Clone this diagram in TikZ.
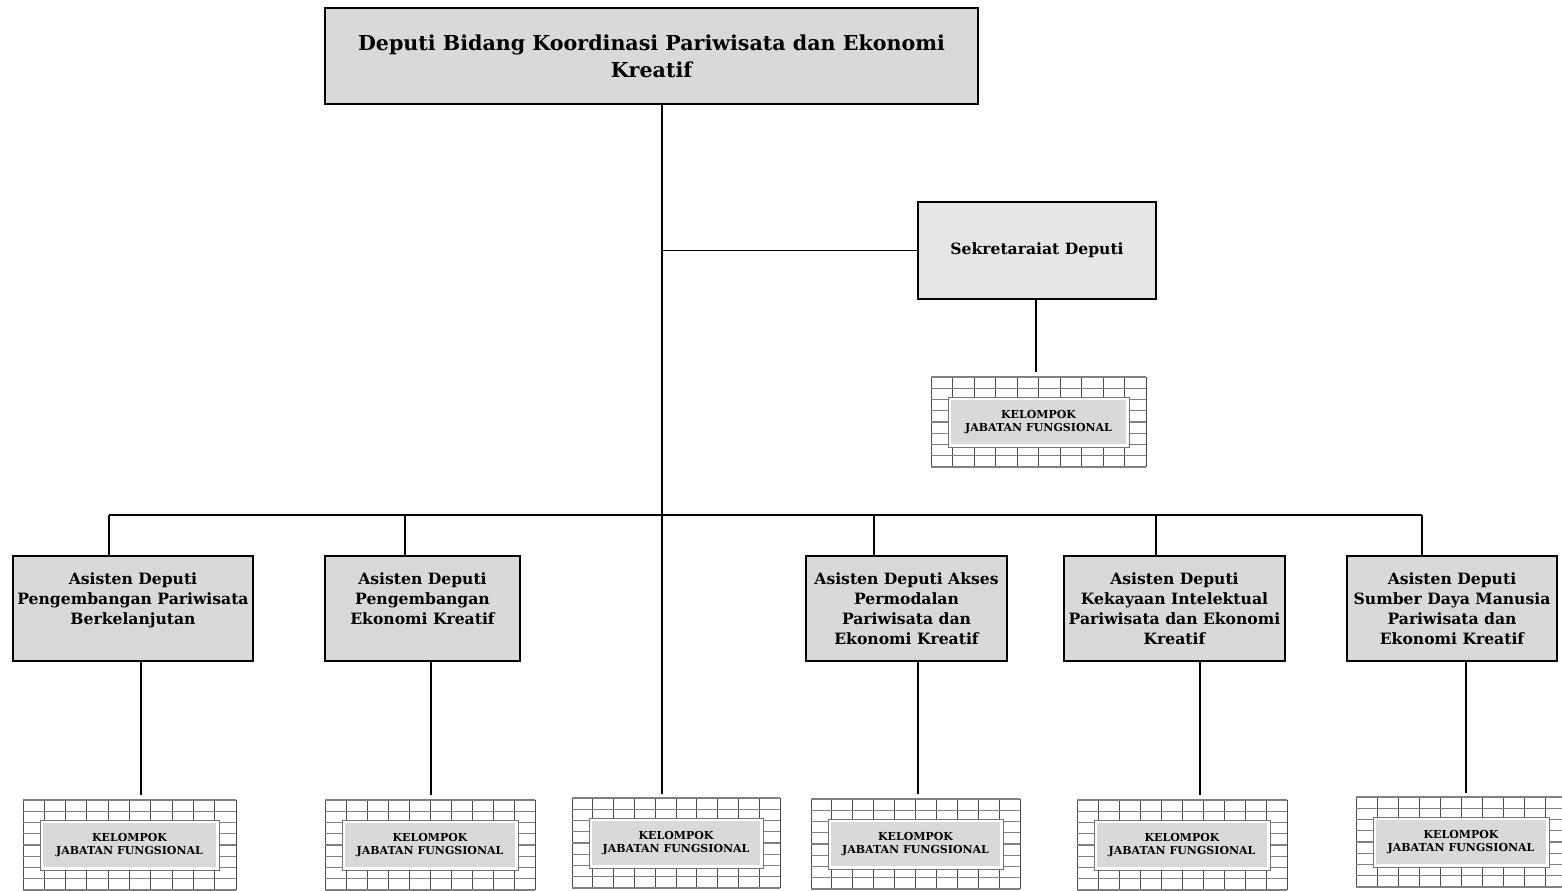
\documentclass[tikz,border=0pt]{standalone}
\usepackage{fontspec}
\setmainfont{DejaVu Serif}
\definecolor{boxgray}{HTML}{D9D9D9}
\definecolor{sekgray}{HTML}{E6E6E6}
\tikzset{
  unit/.style={draw=black, line width=0.7pt, fill=boxgray, align=center,
    font=\bfseries\fontsize{7.8}{10}\selectfont, inner sep=0pt},
  topunit/.style={unit, font=\bfseries\fontsize{10.3}{13.5}\selectfont},
  conn/.style={line width=0.65pt},
  gridv/.style={draw=black!70, line width=0.5pt},
  gridh/.style={draw=black!50, line width=0.55pt},
  kjf/.style={draw=black!55, line width=0.5pt, fill=white, align=center,
    font=\bfseries\fontsize{5.5}{6.6}\selectfont, minimum height=25pt, inner sep=0pt,
    path picture={\fill[boxgray] ([xshift=1.5pt,yshift=-1.5pt]path picture bounding box.north west)
      rectangle ([xshift=-1.5pt,yshift=1.5pt]path picture bounding box.south east);}},
}
% name, left, top, width (px)
\newcommand\kjfgrid[4]{%
  \begin{scope}[shift={(#2,#3)}]
    \foreach \i in {0,...,10} \draw[gridv] ({\i*#4/10},0) -- ({\i*#4/10},90);
    \foreach \j in {0,...,8} \draw[gridh] (0,{\j*11.25}) -- (#4,{\j*11.25});
  \end{scope}
  \node[kjf, minimum width={(#4-34)*0.5pt}] (#1) at ({#2+#4/2},{#3+45}) {KELOMPOK\\JABATAN FUNGSIONAL};
}
\begin{document}
\begin{tikzpicture}[x=0.5pt,y=-0.5pt]
\useasboundingbox (0,0) rectangle (1562,890);
\fill[white] (0,0) rectangle (1562,890);

% units
\node[topunit, minimum width=326.5pt, minimum height=48pt] (top) at (651.5,56)
  {Deputi Bidang Koordinasi Pariwisata dan Ekonomi\\Kreatif};
\node[unit, fill=sekgray, minimum width=119pt, minimum height=48.5pt] (sek) at (1037,250.5)
  {Sekretaraiat Deputi};
\node[unit, minimum width=120pt, minimum height=52.5pt] (b1) at (133,608.5)
  {Asisten Deputi\\Pengembangan Pariwisata\\Berkelanjutan\\\mbox{}};
\node[unit, minimum width=97.5pt, minimum height=52.5pt] (b2) at (422.5,608.5)
  {Asisten Deputi\\Pengembangan\\Ekonomi Kreatif\\\mbox{}};
\node[unit, minimum width=100.5pt, minimum height=52.5pt] (b3) at (906.5,608.5)
  {Asisten Deputi Akses\\Permodalan\\Pariwisata dan\\Ekonomi Kreatif};
\node[unit, minimum width=110.5pt, minimum height=52.5pt] (b4) at (1174.5,608.5)
  {Asisten Deputi\\Kekayaan Intelektual\\Pariwisata dan Ekonomi\\Kreatif};
\node[unit, minimum width=105pt, minimum height=52.5pt] (b5) at (1452,608.5)
  {Asisten Deputi\\Sumber Daya Manusia\\Pariwisata dan\\Ekonomi Kreatif};

% functional groups
\kjfgrid{gs}{931}{377}{215}
\kjfgrid{g1}{23}{800}{213}
\kjfgrid{g2}{325}{800}{210}
\kjfgrid{g3}{572}{798}{208}
\kjfgrid{g4}{811}{799}{209}
\kjfgrid{g5}{1077}{800}{210}
\kjfgrid{g6}{1356}{797}{210}

% connectors
\coordinate (trunkend) at (662,794);
\draw[conn] (top.south -| trunkend) -- (trunkend);
\draw[conn] (sek.west -| trunkend) -- (sek.west);
\coordinate (es) at (1036,372);
\draw[conn] (sek.south -| es) -- (es);

\coordinate (d1) at (109,515);
\coordinate (d2) at (405,515);
\coordinate (d3) at (874,515);
\coordinate (d4) at (1156,515);
\coordinate (d5) at (1422,515);
\draw[conn] (d1) -- (d5);
\draw[conn] (d1) -- (d1 |- b1.north);
\draw[conn] (d2) -- (d2 |- b2.north);
\draw[conn] (d3) -- (d3 |- b3.north);
\draw[conn] (d4) -- (d4 |- b4.north);
\draw[conn] (d5) -- (d5 |- b5.north);

\coordinate (e1) at (141,795);
\coordinate (e2) at (431,795);
\coordinate (e3) at (918,794);
\coordinate (e4) at (1200,795);
\coordinate (e5) at (1466,793);
\draw[conn] (b1.south -| e1) -- (e1);
\draw[conn] (b2.south -| e2) -- (e2);
\draw[conn] (b3.south -| e3) -- (e3);
\draw[conn] (b4.south -| e4) -- (e4);
\draw[conn] (b5.south -| e5) -- (e5);
\end{tikzpicture}
\end{document}
